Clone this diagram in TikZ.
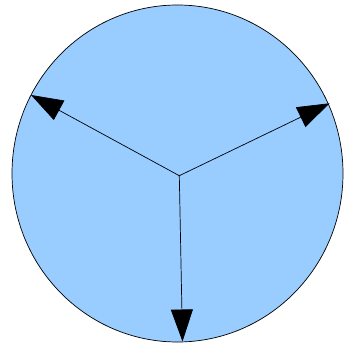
\documentclass[tikz,border=0pt]{standalone}
\usetikzlibrary{arrows.meta}
\definecolor{discblue}{HTML}{99CCFF}
\tikzset{
    disc/.style={
        draw=black,
        fill=discblue,
        line width=0.6pt
    },
    spokearrow/.style={
        -{Triangle[length=0.96cm,width=0.66cm]},
        draw=black,
        line width=0.6pt
    }
}
\begin{document}
\begin{tikzpicture}[x=0.03cm,y=-0.03cm]
        \useasboundingbox (0,0) rectangle (343,345);

        \draw[disc] (177.5,173.5) ellipse [x radius=165.5,y radius=168.5];

        \coordinate (hub) at (179.3,175.7);
        \coordinate (leftTip) at (31,95);
        \coordinate (rightTip) at (329.5,103.3);
        \coordinate (bottomTip) at (182.5,341.5);

        \draw[spokearrow] (hub) -- (leftTip);
        \draw[spokearrow] (hub) -- (rightTip);
        \draw[spokearrow] (hub) -- (bottomTip);
\end{tikzpicture}
\end{document}
